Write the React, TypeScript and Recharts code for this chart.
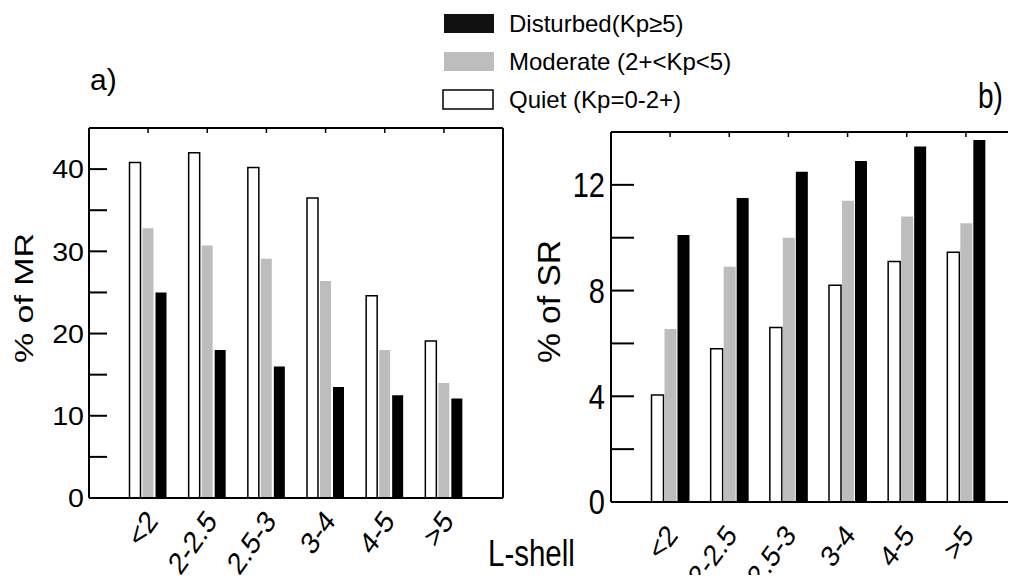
import React from 'react';
import { BarChart, Bar, XAxis, YAxis } from 'recharts';

// L-shell bins
const categories = ['<2', '2-2.5', '2.5-3', '3-4', '4-5', '>5'];

// Panel a) percentage of MR events
const mrQuiet = [40.8, 42.0, 40.2, 36.5, 24.6, 19.1];
const mrModerate = [32.8, 30.7, 29.1, 26.4, 18.0, 14.0];
const mrDisturbed = [25.0, 18.0, 16.0, 13.5, 12.5, 12.1];

// Panel b) percentage of SR events
const srQuiet = [4.05, 5.8, 6.6, 8.2, 9.1, 9.45];
const srModerate = [6.55, 8.9, 10.0, 11.4, 10.8, 10.55];
const srDisturbed = [10.1, 11.5, 12.5, 12.9, 13.45, 13.7];

const mrTicks = [0, 5, 10, 15, 20, 25, 30, 35, 40];
const mrLabelTicks = [0, 10, 20, 30, 40];
const srTicks = [0, 2, 4, 6, 8, 10, 12];
const srLabelTicks = [0, 4, 8, 12];

const seriesNames = {
  disturbed: 'Disturbed(Kp\u22655)',
  moderate: 'Moderate (2+<Kp<5)',
  quiet: 'Quiet (Kp=0-2+)',
};

const FONT = '"Liberation Sans", Arial, Helvetica, sans-serif';
const GRAY = '#bdbdbd';

const mrData = categories.map((cat, i) => ({
  cat,
  quiet: mrQuiet[i],
  moderate: mrModerate[i],
  disturbed: mrDisturbed[i],
}));

const srData = categories.map((cat, i) => ({
  cat,
  quiet: srQuiet[i],
  moderate: srModerate[i],
  disturbed: srDisturbed[i],
}));

const makeValueTick = (labels: number[], fontSize: number, sx: number, sy: number) =>
  (props: any) => {
    const { x, y, payload } = props;
    if (!labels.includes(payload.value)) return <g />;
    return (
      <text
        transform={`translate(${x},${y + fontSize * 0.358 * sy}) scale(${sx},${sy})`}
        textAnchor="end"
        fontSize={fontSize}
        fontFamily={FONT}
        fill="#000"
      >
        {payload.value}
      </text>
    );
  };

const makeCatTick = (fontSize: number, dx: number, dy: number, angle: number, sy: number) =>
  (props: any) => {
    const { x, y, payload } = props;
    return (
      <text
        transform={`translate(${x + dx},${y + dy}) scale(1,${sy}) rotate(${-angle})`}
        textAnchor="end"
        fontSize={fontSize}
        fontFamily={FONT}
        fill="#000"
      >
        {payload.value}
      </text>
    );
  };

const AXIS_STROKE = { stroke: '#000', strokeWidth: 2 };

function Panel(props: {
  data: any[];
  domainMax: number;
  ticks: number[];
  labelTicks: number[];
  width: number;
  height: number;
  margin: { top: number; right: number; bottom: number; left: number };
  yAxisWidth: number;
  xAxisHeight: number;
  tickLen: number;
  tickMargin: number;
  valueFont: [number, number, number];
  catTick: any;
  barSize: number;
  barGap: number;
}) {
  const p = props;
  return (
    <BarChart
      width={p.width}
      height={p.height}
      data={p.data}
      margin={p.margin}
      barSize={p.barSize}
      barGap={p.barGap}
    >
      <XAxis
        dataKey="cat"
        xAxisId="bottom"
        orientation="bottom"
        height={p.xAxisHeight}
        padding={{ left: 29.5, right: 29.5 }}
        axisLine={AXIS_STROKE}
        tickLine={false}
        tickSize={0}
        tickMargin={0}
        interval={0}
        tick={p.catTick}
      />
      <XAxis
        dataKey="cat"
        xAxisId="top"
        orientation="top"
        height={1}
        padding={{ left: 29.5, right: 29.5 }}
        axisLine={AXIS_STROKE}
        tickLine={{ stroke: '#000', strokeWidth: 1.5 }}
        tickSize={-5}
        interval={0}
        tick={() => <g />}
      />
      <YAxis
        yAxisId="left"
        orientation="left"
        width={p.yAxisWidth}
        domain={[0, p.domainMax]}
        ticks={p.ticks}
        interval={0}
        allowDataOverflow
        axisLine={AXIS_STROKE}
        tickLine={{ stroke: '#000', strokeWidth: 2 }}
        tickSize={-p.tickLen}
        tickMargin={p.tickMargin}
        tick={makeValueTick(p.labelTicks, p.valueFont[0], p.valueFont[1], p.valueFont[2])}
      />
      <YAxis
        yAxisId="frame"
        orientation="right"
        width={1}
        domain={[0, p.domainMax]}
        ticks={[]}
        axisLine={AXIS_STROKE}
        tickLine={false}
        tick={false}
      />
      <Bar
        dataKey="quiet"
        name={seriesNames.quiet}
        xAxisId="bottom"
        yAxisId="left"
        fill="#fff"
        stroke="#000"
        strokeWidth={1.5}
        isAnimationActive={false}
      />
      <Bar
        dataKey="moderate"
        name={seriesNames.moderate}
        xAxisId="bottom"
        yAxisId="left"
        fill={GRAY}
        isAnimationActive={false}
      />
      <Bar
        dataKey="disturbed"
        name={seriesNames.disturbed}
        xAxisId="bottom"
        yAxisId="left"
        fill="#000"
        isAnimationActive={false}
      />
    </BarChart>
  );
}

const legendItems = [
  { name: seriesNames.disturbed, fill: '#111', stroke: 'none' },
  { name: seriesNames.moderate, fill: GRAY, stroke: 'none' },
  { name: seriesNames.quiet, fill: '#fff', stroke: '#000' },
];

function Legend() {
  return (
    <g fontFamily={FONT} fill="#000">
      {legendItems.map((item, i) => {
        const top = 14 + i * 38;
        return (
          <g key={item.name}>
            <rect
              x={item.stroke === 'none' ? 444 : 443}
              y={top}
              width={50}
              height={19}
              fill={item.fill}
              stroke={item.stroke}
              strokeWidth={1.5}
            />
            <text x={509} y={top + 18} fontSize={24} fill="#000">
              {item.name}
            </text>
          </g>
        );
      })}
    </g>
  );
}

export default function App() {
  return (
    <div
      style={{
        position: 'relative',
        width: 1016,
        height: 583,
        margin: -8,
        overflow: 'hidden',
        background: '#fff',
      }}
    >
      <div style={{ position: 'absolute', left: 0, top: 0 }}>
        <Panel
          data={mrData}
          domainMax={45}
          ticks={mrTicks}
          labelTicks={mrLabelTicks}
          width={520}
          height={583}
          margin={{ top: 127, right: 16, bottom: 0, left: 0 }}
          yAxisWidth={89}
          xAxisHeight={85}
          tickLen={18}
          tickMargin={23}
          valueFont={[26, 1.1, 1.0]}
          catTick={makeCatTick(26, 11, 24, 50, 1.2)}
          barSize={11}
          barGap={2}
        />
      </div>
      <div style={{ position: 'absolute', left: 520, top: 0 }}>
        <Panel
          data={srData}
          domainMax={14}
          ticks={srTicks}
          labelTicks={srLabelTicks}
          width={520}
          height={583}
          margin={{ top: 131, right: 14, bottom: 0, left: 0 }}
          yAxisWidth={91}
          xAxisHeight={81}
          tickLen={23}
          tickMargin={29}
          valueFont={[29, 1.0, 1.2]}
          catTick={makeCatTick(26, 9, 34, 50, 1.15)}
          barSize={12}
          barGap={1}
        />
      </div>
      <svg
        width={1016}
        height={583}
        style={{ position: 'absolute', left: 0, top: 0, pointerEvents: 'none' }}
      >
        <Legend />
        <text x={90} y={90} fontSize={30} fontFamily={FONT} fill="#000">
          a)
        </text>
        <text
          transform="translate(978,108) scale(1,1.25)"
          fontSize={28}
          fontFamily={FONT}
          fill="#000"
        >
          b)
        </text>
        <text
          transform="translate(488,566) scale(1,1.23)"
          fontSize={29.5}
          fontFamily={FONT}
          fill="#000"
        >
          L-shell
        </text>
        <text
          transform="translate(33,298) scale(1,1.28) rotate(-90)"
          textAnchor="middle"
          fontSize={26.5}
          fontFamily={FONT}
          fill="#000"
        >
          % of MR
        </text>
        <text
          transform="translate(560,301.5) scale(1,1.05) rotate(-90)"
          textAnchor="middle"
          fontSize={32}
          fontFamily={FONT}
          fill="#000"
        >
          % of SR
        </text>
      </svg>
    </div>
  );
}
